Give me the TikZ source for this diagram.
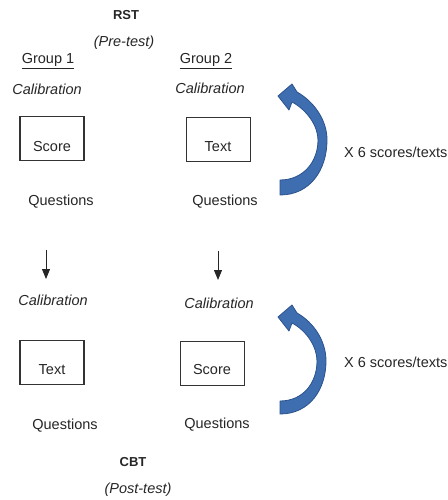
\documentclass[tikz,border=0pt]{standalone}
\usepackage{fontspec}
\setmainfont{Liberation Sans}
\usetikzlibrary{arrows.meta}
\definecolor{loopblue}{RGB}{62,110,176}
\definecolor{loopedge}{RGB}{44,82,140}

\begin{document}
\begin{tikzpicture}[x=1pt,y=-1pt,
  every node/.style={text=black!85, font=\fontsize{14.5}{17}\selectfont, inner sep=0pt},
  head/.style={font=\fontsize{13}{16}\selectfont\bfseries},
  note/.style={font=\fontsize{14.5}{17}\selectfont\itshape},
  stimbox/.style={draw=black!80, line width=1.1pt, minimum width=64pt, minimum height=44pt},
  down/.style={-{Triangle[width=8pt,length=10pt]}, line width=1pt, black!85},
  loop/.style={fill=loopblue, draw=loopedge, line width=0.8pt, line join=round}]

  \useasboundingbox (0,0) rectangle (447,500);

  % Pre-test
  \node[head] (rst) at (126,15) {RST};
  \node[note] (pre) at (124,43) {(Pre-test)};
  \node (g1) at (48,61) {\underline{Group 1}};
  \node (g2) at (206,61) {\underline{Group 2}};

  \node[note] (cal1) at (47,89) {Calibration};
  \node[note] (cal2) at (210,88) {Calibration};
  \node[stimbox] (box1) at (52,138.5) {};
  \node[stimbox] (box2) at (218.5,139.5) {};
  \node (score1) at (52,147) {Score};
  \node (text1) at (218,147) {Text};
  \node (q1) at (61,202) {Questions};
  \node (q2) at (225,202) {Questions};

  % --- repeat loop ---
  \draw[loop] (280,180) -- (280,195) .. controls (310,195) and (327,170) .. (327,140)
    .. controls (327,119) and (313,101) .. (297,92) -- (292,84) -- (278,96) -- (289,110)
    -- (292,102) .. controls (307,110) and (318,126) .. (318,140)
    .. controls (318,162) and (303,180) .. (280,180) -- cycle;
  \node[anchor=west] (rep1) at (344,152) {X 6 scores/texts};

  % Arrows between sessions
  \coordinate (d1s) at (46,250);
  \coordinate (d1e) at (46,279);
  \coordinate (d2s) at (218,251);
  \coordinate (d2e) at (218,280);
  \draw[down] (d1s) -- (d1e);
  \draw[down] (d2s) -- (d2e);

  % Post-test
  \node[note] (cal3) at (53,300) {Calibration};
  \node[note] (cal4) at (219,303) {Calibration};
  \node[stimbox] (box3) at (52,362.5) {};
  \node[stimbox] (box4) at (212.5,363.5) {};
  \node (text2) at (52,370) {Text};
  \node (score2) at (212,370) {Score};
  \node (q3) at (65,426) {Questions};
  \node (q4) at (217,425) {Questions};

  \begin{scope}[shift={(0,221)}]
    \draw[loop] (280,180) -- (280,193) .. controls (310,193) and (326,168) .. (326,140)
      .. controls (326,119) and (313,101) .. (297,92) -- (292,84) -- (278,96) -- (289,110)
      -- (292,102) .. controls (307,110) and (317,126) .. (317,140)
      .. controls (317,162) and (303,180) .. (280,180) -- cycle;
  \end{scope}
  \node[anchor=west] (rep2) at (344,362) {X 6 scores/texts};

  \node[head] (cbt) at (133,462) {CBT};
  \node[note] (post) at (138,490) {(Post-test)};

\end{tikzpicture}
\end{document}
